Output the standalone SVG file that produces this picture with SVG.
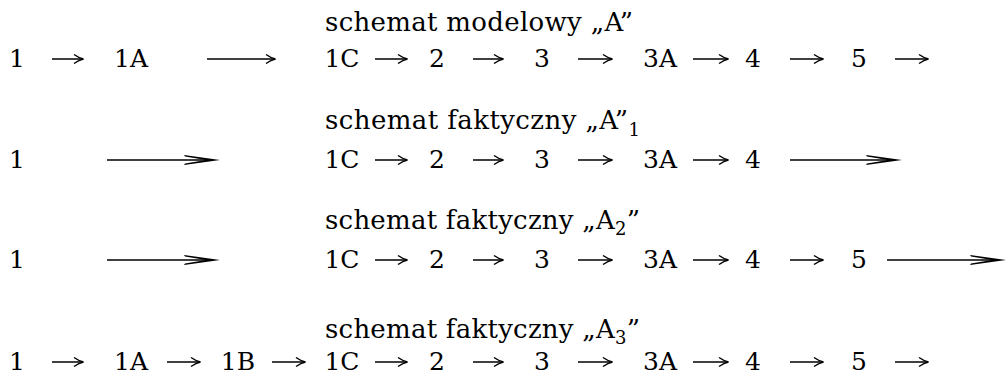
<svg xmlns="http://www.w3.org/2000/svg" width="1007" height="376" viewBox="0 0 1007 376">
<style>
.t{font-family:"DejaVu Serif","Liberation Serif",serif;font-size:26px;fill:#000}
.n{font-family:"DejaVu Serif","Liberation Serif",serif;font-size:25px;fill:#000;text-anchor:middle}
.a{stroke:#000;stroke-width:1.5;fill:none;marker-end:url(#h)}
.l{stroke:#000;stroke-width:1.5;fill:none}
.hd{fill:#000}
</style>
<defs>
<marker id="h" markerUnits="userSpaceOnUse" markerWidth="14" markerHeight="12" viewBox="-10 -6 12 12" refX="0" refY="0" orient="auto" overflow="visible">
<path d="M-9,-4.5 Q-4,-1 0.5,0 Q-4,1 -9,4.5" fill="none" stroke="#000" stroke-width="1.5"/>
</marker>
</defs>
<g id="titles">
<text class="t" x="325" y="31" textLength="308">schemat modelowy „A”</text>
<text class="t" x="325" y="129"><tspan textLength="303">schemat faktyczny „A”</tspan><tspan font-size="18" dy="7">1</tspan></text>
<text class="t" x="325" y="229" textLength="315">schemat faktyczny „A<tspan font-size="18" dy="6">2</tspan><tspan dy="-6">”</tspan></text>
<text class="t" x="325" y="338" textLength="315">schemat faktyczny „A<tspan font-size="18" dy="6">3</tspan><tspan dy="-6">”</tspan></text>
</g>
<g id="row1">
<g id="r1-1"><text class="n" x="17" y="67">1</text></g>
<g id="r1-1A"><text class="n" x="131" y="67">1A</text></g>
<g id="r1-1C"><text class="n" x="342" y="67">1C</text></g>
<g id="r1-2"><text class="n" x="437" y="67">2</text></g>
<g id="r1-3"><text class="n" x="542" y="67">3</text></g>
<g id="r1-3A"><text class="n" x="660" y="67">3A</text></g>
<g id="r1-4"><text class="n" x="753" y="67">4</text></g>
<g id="r1-5"><text class="n" x="859" y="67">5</text></g>
</g>
<g id="row2">
<g id="r2-1"><text class="n" x="17" y="168">1</text></g>
<g id="r2-1C"><text class="n" x="342" y="168">1C</text></g>
<g id="r2-2"><text class="n" x="437" y="168">2</text></g>
<g id="r2-3"><text class="n" x="542" y="168">3</text></g>
<g id="r2-3A"><text class="n" x="660" y="168">3A</text></g>
<g id="r2-4"><text class="n" x="753" y="168">4</text></g>
</g>
<g id="row3">
<g id="r3-1"><text class="n" x="17" y="268">1</text></g>
<g id="r3-1C"><text class="n" x="342" y="268">1C</text></g>
<g id="r3-2"><text class="n" x="437" y="268">2</text></g>
<g id="r3-3"><text class="n" x="542" y="268">3</text></g>
<g id="r3-3A"><text class="n" x="660" y="268">3A</text></g>
<g id="r3-4"><text class="n" x="753" y="268">4</text></g>
<g id="r3-5"><text class="n" x="859" y="268">5</text></g>
</g>
<g id="row4">
<g id="r4-1"><text class="n" x="17" y="370">1</text></g>
<g id="r4-1A"><text class="n" x="131" y="370">1A</text></g>
<g id="r4-1B"><text class="n" x="238" y="370">1B</text></g>
<g id="r4-1C"><text class="n" x="342" y="370">1C</text></g>
<g id="r4-2"><text class="n" x="437" y="370">2</text></g>
<g id="r4-3"><text class="n" x="542" y="370">3</text></g>
<g id="r4-3A"><text class="n" x="660" y="370">3A</text></g>
<g id="r4-4"><text class="n" x="753" y="370">4</text></g>
<g id="r4-5"><text class="n" x="859" y="370">5</text></g>
</g>
<g id="connectors">
<line class="a" x1="52" y1="59" x2="83" y2="59"/>
<line class="a" x1="207" y1="59" x2="275" y2="59"/>
<line class="a" x1="375" y1="59" x2="407" y2="59"/>
<line class="a" x1="473" y1="59" x2="503" y2="59"/>
<line class="a" x1="578" y1="59" x2="612" y2="59"/>
<line class="a" x1="693" y1="59" x2="728" y2="59"/>
<line class="a" x1="790" y1="59" x2="823" y2="59"/>
<line class="a" x1="895" y1="59" x2="928" y2="59"/>
<line class="l" x1="107" y1="160" x2="210" y2="160"/>
<path class="hd" d="M220,160 L184,155 L185,156.5 L206,160 L185,163.5 L184,165 Z"/>
<line class="a" x1="375" y1="160" x2="407" y2="160"/>
<line class="a" x1="473" y1="160" x2="503" y2="160"/>
<line class="a" x1="578" y1="160" x2="612" y2="160"/>
<line class="a" x1="693" y1="160" x2="728" y2="160"/>
<line class="l" x1="790" y1="160" x2="892" y2="160"/>
<path class="hd" d="M902,160 L866,155 L867,156.5 L888,160 L867,163.5 L866,165 Z"/>
<line class="l" x1="107" y1="260" x2="210" y2="260"/>
<path class="hd" d="M220,260 L184,255 L185,256.5 L206,260 L185,263.5 L184,265 Z"/>
<line class="a" x1="375" y1="260" x2="407" y2="260"/>
<line class="a" x1="473" y1="260" x2="503" y2="260"/>
<line class="a" x1="578" y1="260" x2="612" y2="260"/>
<line class="a" x1="693" y1="260" x2="728" y2="260"/>
<line class="a" x1="790" y1="260" x2="823" y2="260"/>
<line class="l" x1="887" y1="260" x2="996" y2="260"/>
<path class="hd" d="M1006,260 L970,255 L971,256.5 L992,260 L971,263.5 L970,265 Z"/>
<line class="a" x1="52" y1="362" x2="83" y2="362"/>
<line class="a" x1="167" y1="362" x2="200" y2="362"/>
<line class="a" x1="272" y1="362" x2="305" y2="362"/>
<line class="a" x1="375" y1="362" x2="407" y2="362"/>
<line class="a" x1="473" y1="362" x2="503" y2="362"/>
<line class="a" x1="578" y1="362" x2="612" y2="362"/>
<line class="a" x1="693" y1="362" x2="728" y2="362"/>
<line class="a" x1="790" y1="362" x2="823" y2="362"/>
<line class="a" x1="895" y1="362" x2="928" y2="362"/>
</g>
</svg>
